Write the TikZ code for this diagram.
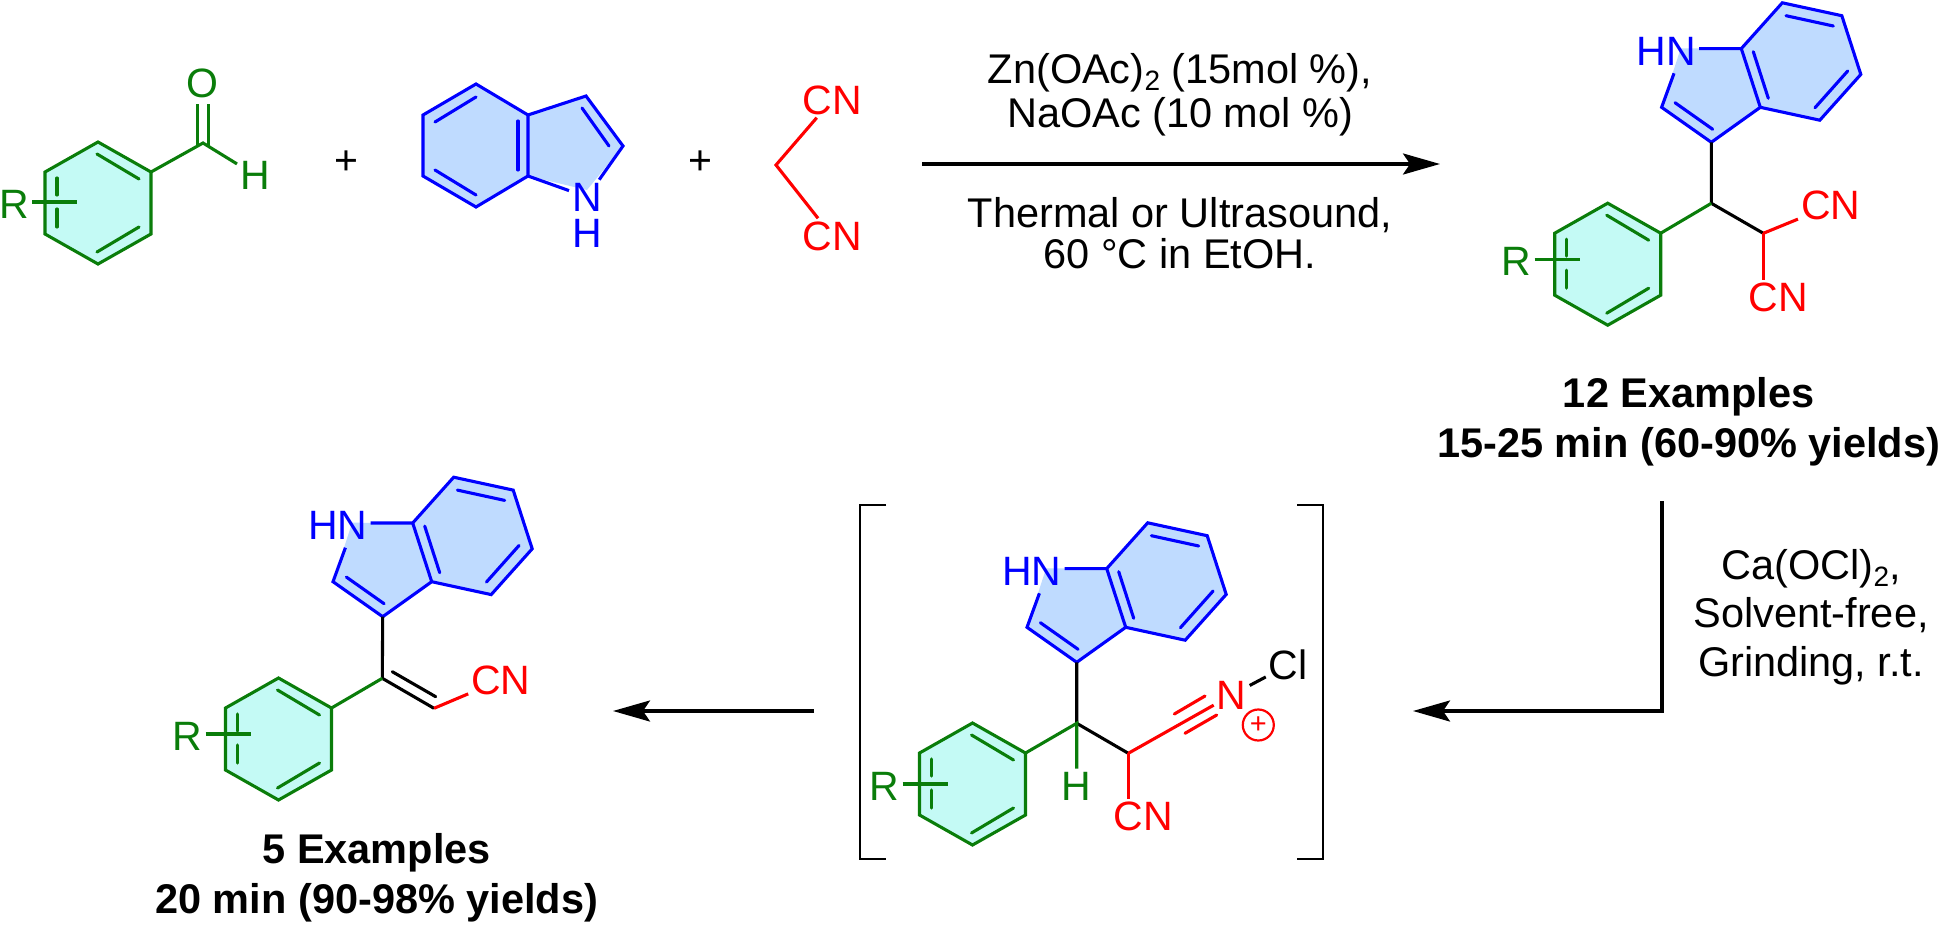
\documentclass[tikz,border=0pt]{standalone}
\usepackage{fontspec}
\setmainfont{Liberation Sans}
\usetikzlibrary{arrows.meta}

\definecolor{chemgreen}{RGB}{10,125,10}
\definecolor{phenylfill}{RGB}{196,250,245}
\definecolor{indolefill}{RGB}{191,219,255}

\tikzset{
    bond/.style={line width=3.1pt},
    inner bond/.style={line width=3.1pt, line cap=round},
    atom/.style={font=\fontsize{41}{45}\selectfont, inner sep=3pt},
    conditions/.style={font=\fontsize{41.5}{41}\selectfont, align=center, inner sep=0pt},
    yields/.style={font=\fontsize{41.5}{50}\selectfont\bfseries, align=center, inner sep=0pt},
    rxn arrow/.style={line width=3.2pt, -{Stealth[length=37pt,width=21pt,inset=7pt]}},
    bracket/.style={line width=2.7pt}
}

% Subscript of the conditions
\newcommand{\subtwo}{\raisebox{-7pt}{\fontsize{28}{28}\selectfont 2}}

% Benzene ring with its substituent: name, centre x, centre y, shift of R in y and x
\newcommand{\phenylring}[5]{
    \begin{scope}[shift={(#2,#3)}, name prefix=#1-]
        \coordinate (a) at (0,-61);
        \coordinate (b) at (53,-31);
        \coordinate (c) at (53,31);
        \coordinate (d) at (0,61);
        \coordinate (e) at (-53,31);
        \coordinate (f) at (-53,-31);
        \fill[phenylfill] (a) -- (b) -- (c) -- (d) -- (e) -- (f) -- cycle;
        \draw[bond, chemgreen] (a) -- (b) -- (c) -- (d) -- (e) -- (f) -- cycle;
        \draw[inner bond, chemgreen] (-1,-49) -- (41,-24);
        \draw[inner bond, chemgreen] (-1,49) -- (41,24);
        \draw[inner bond, chemgreen] (-41,-25) -- (-41,-8);
        \draw[inner bond, chemgreen] (-41,6) -- (-41,24);
        \node[atom, chemgreen] (R) at (-91+#5,#4+2) {R};
        \coordinate (Rend) at (-28+#5,#4);
        \draw[bond, chemgreen] (R.east |- Rend) -- (Rend);
    \end{scope}
}

% Indole, placed by its C3 atom: name, x, y
\newcommand{\indolering}[3]{
    \begin{scope}[shift={(#2,#3)}, name prefix=#1-]
        \coordinate (C3) at (0,0);
        \coordinate (C2) at (-49.7,-35);
        \coordinate (Nt) at (-30.6,-94);
        \coordinate (C7a) at (30,-93.7);
        \coordinate (C7) at (71,-139.5);
        \coordinate (C6) at (130.5,-126.6);
        \coordinate (C5) at (149.5,-67.9);
        \coordinate (C4) at (108.5,-22.1);
        \coordinate (C3a) at (49,-35);
        \coordinate (Nb) at (-37.3,-69);
        \fill[indolefill] (C3) -- (C2) -- (Nt) -- (C7a) -- (C7) -- (C6) -- (C5) -- (C4) -- (C3a) -- cycle;
        \node[atom, blue] (HN) at (-45,-91) {HN};
        \draw[bond, blue] (Nb) -- (C2) -- (C3) -- (C3a) -- (C4) -- (C5) -- (C6) -- (C7) -- (C7a) -- (C7a -| HN.east);
        \draw[bond, blue] (C7a) -- (C3a);
        \draw[inner bond, blue] (-36.3,-39.6) -- (1.4,-13);
        \draw[inner bond, blue] (42,-90.6) -- (57,-44);
        \draw[inner bond, blue] (74.7,-126.6) -- (122,-116.3);
        \draw[inner bond, blue] (136.4,-71.3) -- (103.7,-34.6);
    \end{scope}
}

\begin{document}
\begin{tikzpicture}[x=1pt, y=-1pt]

    \useasboundingbox (0,0) rectangle (1940,926);

    % Aldehyde
    \phenylring{ald}{98}{203}{-1}{7}
    \coordinate (aldC) at (203,143);
    \node[atom, chemgreen] (aldO) at (202,83) {O};
    \node[atom, chemgreen] (aldH) at (255,175) {H};
    \draw[bond, chemgreen] (ald-b) -- (aldC) -- (aldH);
    \draw[bond, chemgreen] (197.5,145) -- (197.5,104);
    \draw[bond, chemgreen] (208.5,147) -- (208.5,104);

    \node[atom] (plusA) at (346,163) {+};

    % Indole
    \fill[indolefill] (423,115) -- (476,84) -- (528,115) -- (586,96) -- (623,146) -- (587,190) -- (528,176) -- (476,207) -- (423,176) -- cycle;
    \node[atom, blue] (indN) at (587,197) {N};
    \node[atom, blue, inner sep=0pt] (indH) at (587,233) {H};
    \coordinate (bzA) at (476,84);
    \coordinate (bzB) at (528,115);
    \coordinate (bzC) at (528,176);
    \coordinate (bzD) at (476,207);
    \coordinate (bzE) at (423,176);
    \coordinate (bzF) at (423,115);
    \coordinate (pyB) at (586,96);
    \coordinate (pyC) at (623,146);
    \draw[bond, blue] (bzA) -- (bzB) -- (bzC) -- (bzD) -- (bzE) -- (bzF) -- cycle;
    \draw[bond, blue] (bzB) -- (pyB) -- (pyC) -- (indN);
    \draw[bond, blue] (bzC) -- (indN);
    \draw[inner bond, blue] (435,122) -- (476,97);
    \draw[inner bond, blue] (435,170) -- (476,195);
    \draw[inner bond, blue] (518,121) -- (518,170);
    \draw[inner bond, blue] (582,108) -- (609,146);

    \node[atom] (plusB) at (700,163) {+};

    % Malononitrile
    \coordinate (malC) at (776,165);
    \node[atom, red] (malTop) at (832,100) {CN};
    \node[atom, red] (malBot) at (832,236) {CN};
    \draw[bond, red] (malTop) -- (malC) -- (malBot);

    % First step
    \coordinate (stepAs) at (922,164);
    \coordinate (stepAe) at (1440,164);
    \draw[rxn arrow] (stepAs) -- (stepAe);
    \node[conditions] (stepAtop) at (1180,95) {Zn(OAc)\subtwo{} (15mol \%),\\[3pt]NaOAc (10 mol \%)};
    \node[conditions] (stepAbot) at (1180,233) {Thermal or Ultrasound,\\60 °C in EtOH.};

    % Upper product
    \indolering{up}{1711.3}{142.3}
    \phenylring{upph}{1607.7}{264.2}{-5}{0}
    \coordinate (upCH) at (1711.3,203.3);
    \coordinate (upCN) at (1763.3,233.3);
    \node[atom, red] (upCNa) at (1830.7,205.7) {CN};
    \node[atom, red] (upCNb) at (1778,297.3) {CN};
    \draw[bond] (up-C3) -- (upCH) -- (upCN);
    \draw[bond, chemgreen] (upph-b) -- (upCH);
    \draw[bond, red] (upCN) -- (upCNa);
    \draw[bond, red] (upCN) -- (upCN |- upCNb.north);
    \node[yields] (upText) at (1688.7,422) {12 Examples\\15-25 min (60-90\% yields)};

    % Second step
    \coordinate (stepBs) at (1662,501);
    \coordinate (stepBc) at (1662,711);
    \coordinate (stepBe) at (1413,711);
    \draw[rxn arrow] (stepBs) -- (stepBc) -- (stepBe);
    \node[conditions, font=\fontsize{41.5}{48.5}\selectfont] (stepBtxt) at (1811,617) {Ca(OCl)\subtwo,\\Solvent-free,\\Grinding, r.t.};

    % Intermediate in brackets
    \coordinate (brAa) at (886,505);
    \coordinate (brAb) at (860,505);
    \coordinate (brAc) at (860,859);
    \coordinate (brAd) at (886,859);
    \coordinate (brBa) at (1297,505);
    \coordinate (brBb) at (1323,505);
    \coordinate (brBc) at (1323,859);
    \coordinate (brBd) at (1297,859);
    \draw[bracket] (brAa) -- (brAb) -- (brAc) -- (brAd);
    \draw[bracket] (brBa) -- (brBb) -- (brBc) -- (brBd);
    \indolering{mid}{1076.7}{662.3}
    \phenylring{midph}{972.5}{784}{0}{3}
    \coordinate (midCH) at (1076.7,723.3);
    \coordinate (midCN) at (1128.3,753.3);
    \node[atom, chemgreen] (midH) at (1076,786) {H};
    \node[atom, red] (midCNb) at (1143.3,816.7) {CN};
    \node[atom, red] (midN) at (1231.7,695) {N};
    \node[atom] (midCl) at (1288.3,665) {Cl};
    \node[draw=red, text=red, circle, line width=2.2pt, minimum size=31pt, inner sep=0pt, font=\fontsize{29}{29}\selectfont] (midPlus) at (1258.3,725) {+};
    \draw[bond] (mid-C3) -- (midCH) -- (midCN);
    \draw[bond, chemgreen] (midph-b) -- (midCH) -- (midCH |- midH.north);
    \draw[bond, red] (midCN) -- (midCN |- midCNb.north);
    \draw[bond, red] (midCN) -- (midN);
    \draw[inner bond, red] (1174.3,714) -- (1205,696);
    \draw[inner bond, red] (1185,733.3) -- (1216.7,715);
    \draw[bond] (midN) -- (midCl);

    % Third step
    \coordinate (stepCs) at (814,711);
    \coordinate (stepCe) at (613,711);
    \draw[rxn arrow] (stepCs) -- (stepCe);

    % Lower product
    \indolering{low}{382.7}{616.7}
    \phenylring{lowph}{278.5}{739}{-5}{0}
    \coordinate (lowC) at (382.3,678.3);
    \coordinate (lowCH) at (434,708.3);
    \node[atom, red] (lowCN) at (501,680) {CN};
    \draw[bond] (low-C3) -- (lowC) -- (lowCH);
    \draw[inner bond] (392.3,671.7) -- (435.7,696.7);
    \draw[bond, chemgreen] (lowph-b) -- (lowC);
    \draw[bond, red] (lowCH) -- (lowCN);
    \node[yields] (lowText) at (376.7,878) {5 Examples\\20 min (90-98\% yields)};

\end{tikzpicture}
\end{document}
